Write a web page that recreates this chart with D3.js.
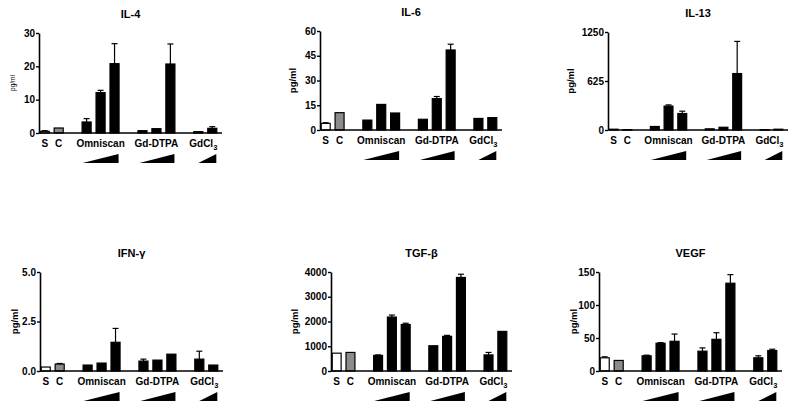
<!DOCTYPE html>
<html>
<head>
<meta charset="utf-8">
<script src="https://cdn.jsdelivr.net/npm/d3@7"></script>
<style>
  body { margin: 0; background: #fff; }
  svg { display: block; font-family: "Liberation Sans", Arial, sans-serif; }
</style>
</head>
<body>
<div id="chart"></div>
<script>
// bar order: S, C, Omniscan x3, Gd-DTPA x3, GdCl3 x2
var barKeys = ["S", "C", "O1", "O2", "O3", "D1", "D2", "D3", "L1", "L2"];
var slots = ["S", "C", "g1", "O1", "O2", "O3", "g2", "D1", "D2", "D3", "g3", "L1", "L2"];
var fills = ["#fff", "#8c8c8c", "#000", "#000", "#000", "#000", "#000", "#000", "#000", "#000"];

var il4Mean = [0.5, 1.5, 3.3, 12.1, 20.8, 0.7, 1.3, 20.7, 0.4, 1.4];
var il4Err  = [0.2, 0, 1.0, 0.7, 6.0, 0, 0, 6.0, 0, 0.5];
var il6Mean = [4, 10.5, 6, 15.5, 10.3, 6.5, 19, 48.5, 7, 7.5];
var il6Err  = [0.4, 0, 0, 0, 0, 0, 1.3, 3.5, 0, 0];
var il13Mean = [10, 5, 45, 305, 210, 15, 35, 720, 5, 10];
var il13Err  = [0, 0, 0, 15, 30, 0, 0, 410, 0, 0];
var ifnMean = [0.2, 0.35, 0.3, 0.4, 1.45, 0.5, 0.55, 0.85, 0.6, 0.3];
var ifnErr  = [0, 0.03, 0, 0, 0.7, 0.1, 0, 0, 0.4, 0];
var tgfMean = [720, 750, 630, 2180, 1880, 1020, 1400, 3780, 650, 1600];
var tgfErr  = [0, 0, 20, 80, 50, 0, 40, 130, 100, 0];
var vegfMean = [20, 16, 23, 42, 45, 30, 48, 133, 20, 31];
var vegfErr  = [1.5, 0, 1, 1, 11, 5, 10, 13, 3, 2];

var il4Ticks = [0, 10, 20, 30];
var il6Ticks = [0, 15, 30, 45, 60];
var il13Ticks = [0, 625, 1250];
var ifnTicks = [0, 2.5, 5];
var tgfTicks = [0, 1000, 2000, 3000, 4000];
var vegfTicks = [0, 50, 100, 150];

var panels = [
  {title: "IL-4", mean: il4Mean, err: il4Err, ticks: il4Ticks, fmt: "d", x0: 39, x1: 222, top: 33, base: 133, lab: 26, small: true},
  {title: "IL-6", mean: il6Mean, err: il6Err, ticks: il6Ticks, fmt: "d", x0: 320, x1: 502, top: 31, base: 130, lab: 27},
  {title: "IL-13", mean: il13Mean, err: il13Err, ticks: il13Ticks, fmt: "d", x0: 608, x1: 788, top: 32, base: 130, lab: 37},
  {title: "IFN-\u03b3", mean: ifnMean, err: ifnErr, ticks: ifnTicks, fmt: ".1f", x0: 40, x1: 223, top: 272, base: 371, lab: 25},
  {title: "TGF-\u03b2", mean: tgfMean, err: tgfErr, ticks: tgfTicks, fmt: "d", x0: 331, x1: 512, top: 272, base: 371, lab: 36},
  {title: "VEGF", mean: vegfMean, err: vegfErr, ticks: vegfTicks, fmt: "d", x0: 599, x1: 782, top: 272, base: 371, lab: 25}
];

var svg = d3.select("#chart").append("svg")
  .attr("width", 800)
  .attr("height", 409);

panels.forEach(function(p) {
  var g = svg.append("g");
  var x = d3.scaleBand().domain(slots).range([p.x0, p.x1 - 4]).paddingInner(0.28).paddingOuter(0.05);
  var y = d3.scaleLinear().domain([0, p.ticks[p.ticks.length - 1]]).range([p.base, p.top]);
  var bw = x.bandwidth();

  var rows = barKeys.map(function(k, i) { return {k: k, v: p.mean[i], e: p.err[i], fill: fills[i]}; });

  // error bars (upper only)
  var eb = g.selectAll(".eb").data(rows.filter(function(d) { return d.e > 0; })).enter().append("g");
  eb.append("line")
    .attr("x1", function(d) { return x(d.k) + bw / 2; })
    .attr("x2", function(d) { return x(d.k) + bw / 2; })
    .attr("y1", function(d) { return y(d.v); })
    .attr("y2", function(d) { return y(d.v + d.e); })
    .attr("stroke", "#000").attr("stroke-width", 1.2);
  eb.append("line")
    .attr("x1", function(d) { return x(d.k) + bw / 2 - 3; })
    .attr("x2", function(d) { return x(d.k) + bw / 2 + 3; })
    .attr("y1", function(d) { return y(d.v + d.e); })
    .attr("y2", function(d) { return y(d.v + d.e); })
    .attr("stroke", "#000").attr("stroke-width", 1.2);

  g.selectAll(".bar").data(rows).enter().append("rect")
    .attr("x", function(d) { return x(d.k) + 0.5; })
    .attr("width", bw - 1)
    .attr("y", function(d) { return y(d.v); })
    .attr("height", function(d) { return Math.max(0.5, p.base - y(d.v)); })
    .attr("fill", function(d) { return d.fill; })
    .attr("stroke", "#000")
    .attr("stroke-width", 1.2);

  // axes
  var ax = g.append("g")
    .attr("transform", "translate(" + p.x0 + ",0)")
    .call(d3.axisLeft(y).tickValues(p.ticks).tickSize(3).tickSizeOuter(0).tickFormat(d3.format(p.fmt)));
  ax.select(".domain").attr("stroke-width", 1.6);
  ax.selectAll(".tick line").attr("stroke-width", 1.4);
  ax.selectAll(".tick text")
    .attr("x", -4)
    .style("font-size", "10px")
    .style("font-weight", "bold")
    .attr("fill", "#000");

  g.append("line")
    .attr("x1", p.x0).attr("x2", p.x1)
    .attr("y1", p.base).attr("y2", p.base)
    .attr("stroke", "#000").attr("stroke-width", 1.6);

  // y label
  g.append("text")
    .attr("transform", "translate(" + (p.x0 - p.lab) + "," + ((p.top + p.base) / 2) + ") rotate(-90)")
    .attr("text-anchor", "middle")
    .attr("dy", "0.35em")
    .style("font-size", p.small ? "6.5px" : "9.5px")
    .style("font-weight", p.small ? "normal" : "bold")
    .text("pg/ml");

  // title
  g.append("text")
    .attr("x", (p.x0 + p.x1) / 2)
    .attr("y", p.top - 15)
    .attr("text-anchor", "middle")
    .style("font-size", "11px")
    .style("font-weight", "bold")
    .text(p.title);

  // category labels
  var ly = p.base + 13.5;
  var lab = function(t, cx) {
    return g.append("text").attr("x", cx).attr("y", ly).attr("text-anchor", "middle")
      .style("font-size", "10px").style("font-weight", "bold").text(t);
  };
  lab("S", x("S") + bw / 2);
  lab("C", x("C") + bw / 2);
  lab("Omniscan", x("O2") + bw / 2);
  lab("Gd-DTPA", x("D2") + bw / 2);
  var gl = lab("GdCl", (x("L1") + x("L2") + bw) / 2 - 2);
  gl.append("tspan").attr("dy", 3).style("font-size", "7.5px").text("3");

  // dose ramps
  var ramps = [["O1", "O3", 1], ["D1", "D3", 2], ["L1", "L2", bw / 2]];
  ramps.forEach(function(r) {
    var a = x(r[0]) + r[2], b = x(r[1]) + bw - 1;
    var t = p.base + 21, bt = p.base + 30;
    g.append("path")
      .attr("d", "M" + a + "," + bt + "L" + b + "," + t + "L" + b + "," + bt + "Z")
      .attr("fill", "#000");
  });
});
</script>
</body>
</html>
